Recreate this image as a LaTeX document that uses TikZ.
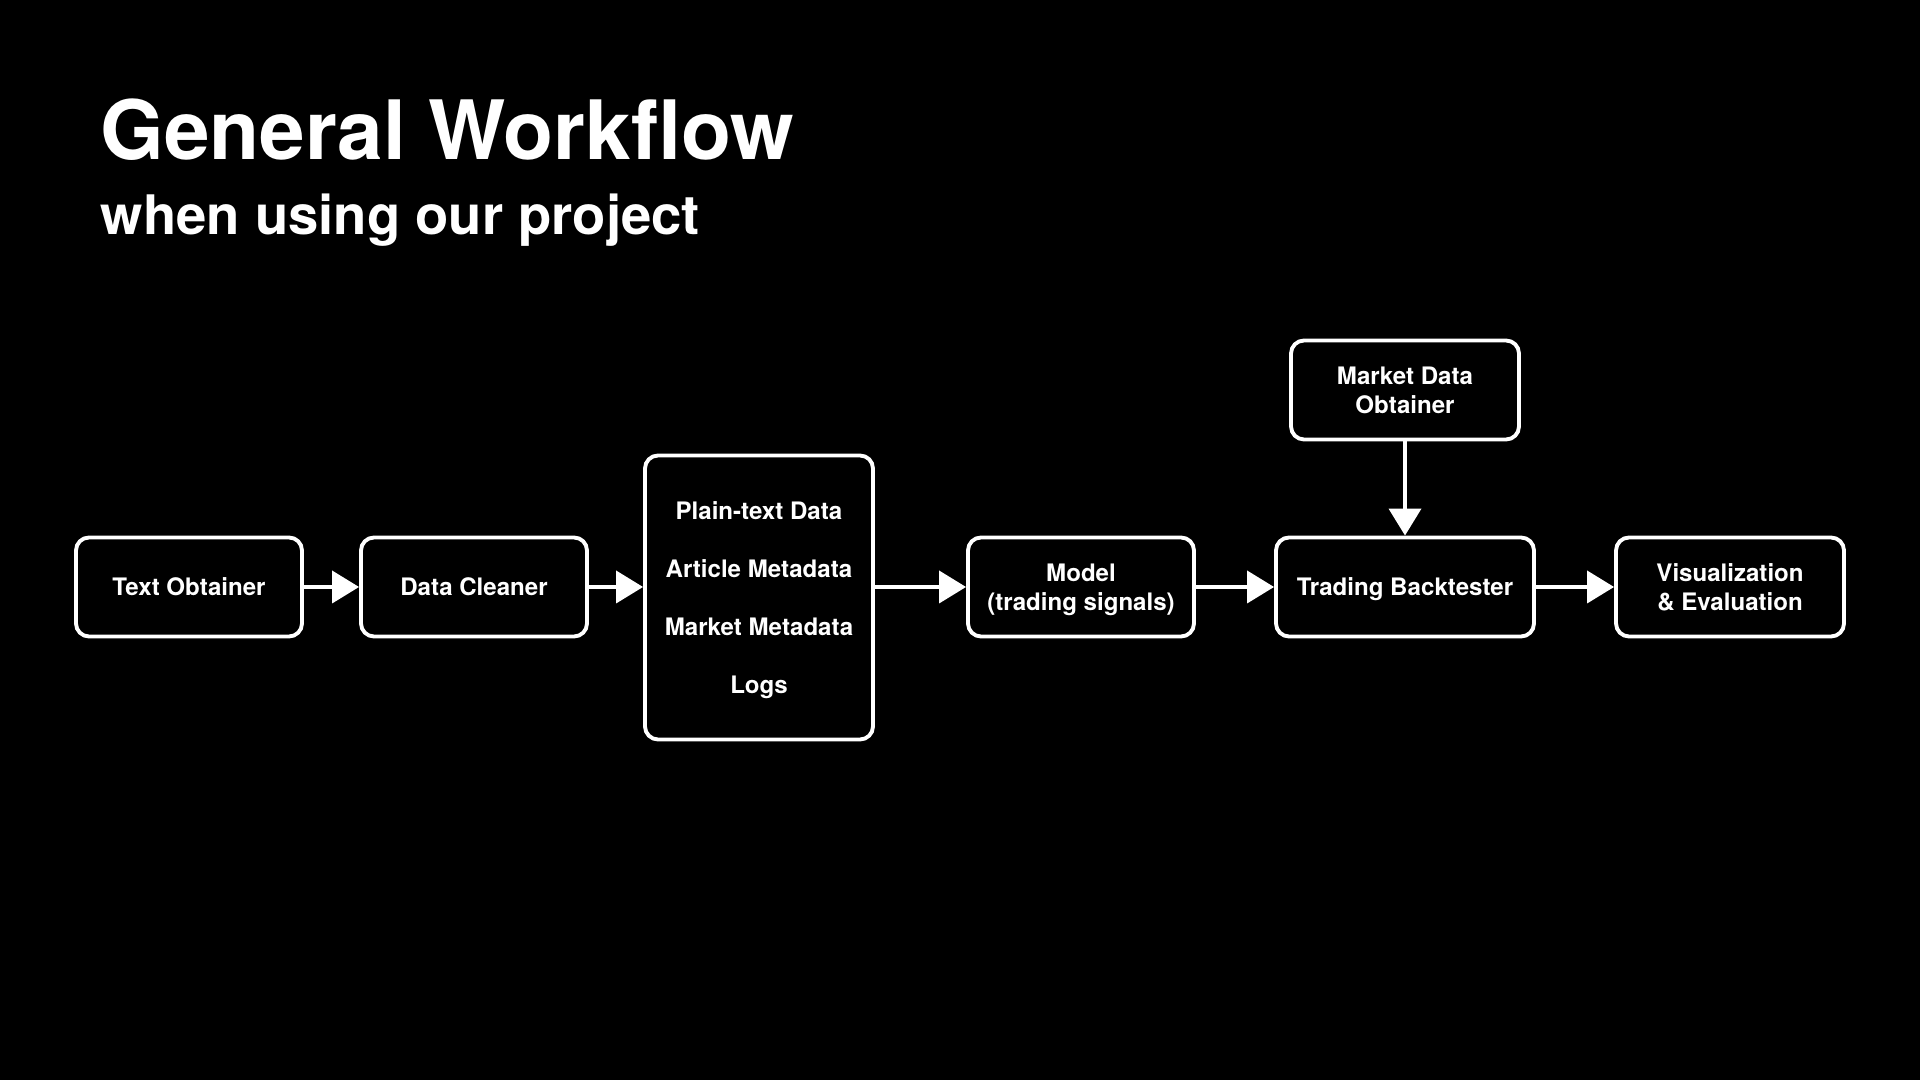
\documentclass[tikz,border=0pt]{standalone}
\usepackage{fontspec}
\setmainfont{TeX Gyre Heros}
\usetikzlibrary{arrows.meta}

\begin{document}
\begin{tikzpicture}
	\tikzstyle{stage}=[rectangle,rounded corners=1.3mm,line width=1.1pt,draw=white,fill=black,text=white,align=center,minimum width=2.26cm,minimum height=0.99cm,inner sep=0pt,text depth=0pt,font=\bfseries\fontsize{6.85}{8.3}\selectfont]
	\tikzstyle{edge}=[draw=white, line width=1.1pt, -{Triangle[length=2.7mm,width=3.2mm,fill=white]}]
	\useasboundingbox (0,0) rectangle (19.2,10.8);
	\fill[black] (0,0) rectangle (19.2,10.8);
	% heading
	\node [anchor=base west,inner sep=0pt,text=white,font=\bfseries\fontsize{23.3}{27}\selectfont] (title) at (1.0,9.2) {General Workflow};
	\node [anchor=base west,inner sep=0pt,text=white,font=\bfseries\fontsize{15.5}{18}\selectfont] (subtitle) at (1.0,8.45) {when using our project};
	\begin{scope}
		\node [stage] (txt) at (1.89,4.93) {Text Obtainer};
		\node [stage] (cln) at (4.74,4.93) {Data Cleaner};
		\node [stage,minimum width=2.28cm,minimum height=2.84cm,font=\bfseries\fontsize{6.85}{16.5}\selectfont] (data) at (7.59,4.825) {Plain-text Data\\Article Metadata\\Market Metadata\\Logs};
		\node [stage] (model) at (10.81,4.93) {Model\\(trading signals)};
		\node [stage,minimum width=2.58cm] (bt) at (14.05,4.93) {Trading Backtester};
		\node [stage,minimum width=2.28cm] (mkt) at (14.05,6.90) {Market Data\\Obtainer};
		\node [stage,minimum width=2.28cm] (vis) at (17.30,4.93) {Visualization\\\& Evaluation};
		\draw[edge] (txt) -- (cln);
		\draw[edge] (cln) -- (cln -| data.west);
		\draw[edge] (data.east |- model.west) -- (model.west);
		\draw[edge] (model) -- (bt);
		\draw[edge] (bt) -- (vis);
		\draw[edge] (mkt) -- (bt);
	\end{scope}
\end{tikzpicture}
\end{document}
